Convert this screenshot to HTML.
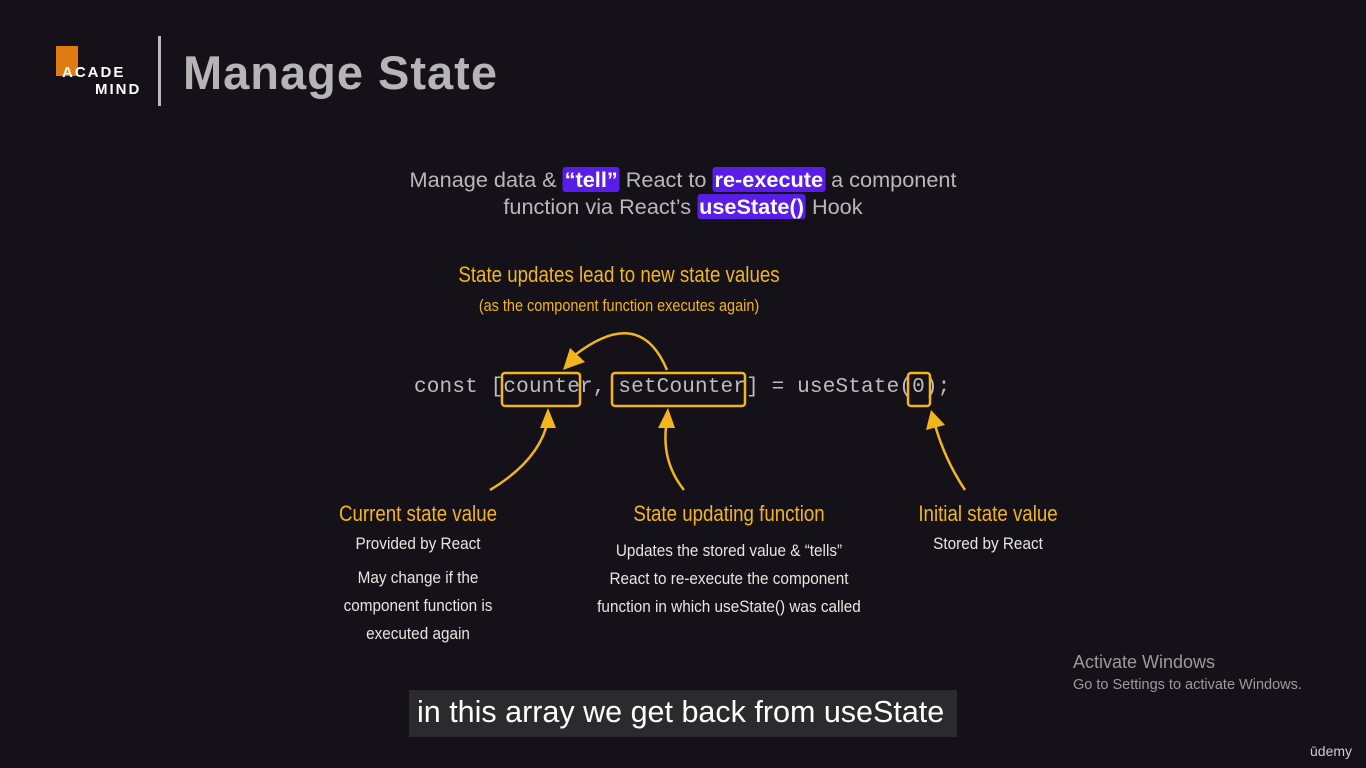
<!DOCTYPE html>
<html><head><meta charset="utf-8"><style>
body{margin:0;width:1366px;height:768px;background:#141218;overflow:hidden;position:relative;font-family:"Liberation Sans",sans-serif}
.a{position:absolute;white-space:nowrap}
.y{color:#f2b51f}
.w{color:#e8e4e0}
.c{text-align:center;transform:translateX(-50%)}
.n{text-align:center;transform:translateX(-50%) scaleX(0.85)}
.m{text-align:center;transform:translateX(-50%) scaleX(0.9)}
.hl{background:#5a1de8;color:#fff;font-weight:bold;border-radius:3px;padding:0 2px}
</style></head><body>
<div class="a" style="left:56px;top:46px;width:22px;height:30px;background:#e07b12"></div>
<div class="a" style="left:62px;top:64px;font-size:15px;font-weight:bold;color:#fff;letter-spacing:2px">ACADE</div>
<div class="a" style="left:95px;top:81px;font-size:15px;font-weight:bold;color:#fff;letter-spacing:2px">MIND</div>
<div class="a" style="left:158px;top:36px;width:3px;height:70px;background:#bbb"></div>
<div class="a" style="left:183px;top:45px;font-size:47px;font-weight:bold;color:#b5b5b5;letter-spacing:1px">Manage State</div>
<div class="a c" style="left:683px;top:166px;font-size:21.7px;color:#b8b8b8;line-height:27px;text-align:center">Manage data &amp; <span class="hl">“tell”</span> React to <span class="hl">re-execute</span> a component<br>function via React’s <span class="hl">useState()</span> Hook</div>
<div class="a y n" style="left:619px;top:262px;font-size:22px">State updates lead to new state values</div>
<div class="a y n" style="left:619px;top:296px;font-size:17px">(as the component function executes again)</div>
<div class="a" style="left:414px;top:376px;font-family:'Liberation Mono',monospace;font-size:21px;color:#bdbdbd;letter-spacing:0.17px">const [counter, setCounter] = useState(0);</div>
<svg class="a" style="left:0;top:0" width="1366" height="768">
<g fill="none" stroke="#f2b51f" stroke-width="2.5">
<rect x="502" y="373" width="78" height="33" rx="3"/>
<rect x="612" y="373" width="133" height="33" rx="3"/>
<rect x="908" y="373" width="22" height="33" rx="3"/>
<path d="M667 370 Q640 305 575 355"/>
<path d="M490 490 Q540 460 548 420"/>
<path d="M684 490 Q660 460 667 420"/>
<path d="M965 490 Q945 460 935 425"/>
</g>
<g fill="#f2b51f">
<polygon points="563,370 570,348 585,362"/>
<polygon points="540,428 548,408 556,428"/>
<polygon points="658,428 668,408 675,428"/>
<polygon points="926,430 931,410 945,425"/>
</g>
</svg>
<div class="a y n" style="left:418px;top:501px;font-size:22px">Current state value</div>
<div class="a w m" style="left:418px;top:534px;font-size:17px">Provided by React</div>
<div class="a w m" style="left:418px;top:564px;font-size:17px;line-height:28px">May change if the<br>component function is<br>executed again</div>
<div class="a y n" style="left:729px;top:501px;font-size:22px">State updating function</div>
<div class="a w m" style="left:729px;top:537px;font-size:17px;line-height:28px">Updates the stored value &amp; “tells”<br>React to re-execute the component<br>function in which useState() was called</div>
<div class="a y n" style="left:988px;top:501px;font-size:22px">Initial state value</div>
<div class="a w m" style="left:988px;top:534px;font-size:17px">Stored by React</div>
<div class="a" style="left:1073px;top:652px;font-size:18px;color:#9a9a9a">Activate Windows</div>
<div class="a" style="left:1073px;top:677px;font-size:14.5px;color:#9a9a9a">Go to Settings to activate Windows.</div>
<div class="a" style="left:409px;top:690px;width:548px;height:47px;background:#2b2b2e"></div>
<div class="a" style="left:417px;top:695px;font-size:30.5px;color:#fff">in this array we get back from useState</div>
<div class="a" style="left:1310px;top:743px;font-size:14px;color:#ccc">ūdemy</div>
</body></html>
